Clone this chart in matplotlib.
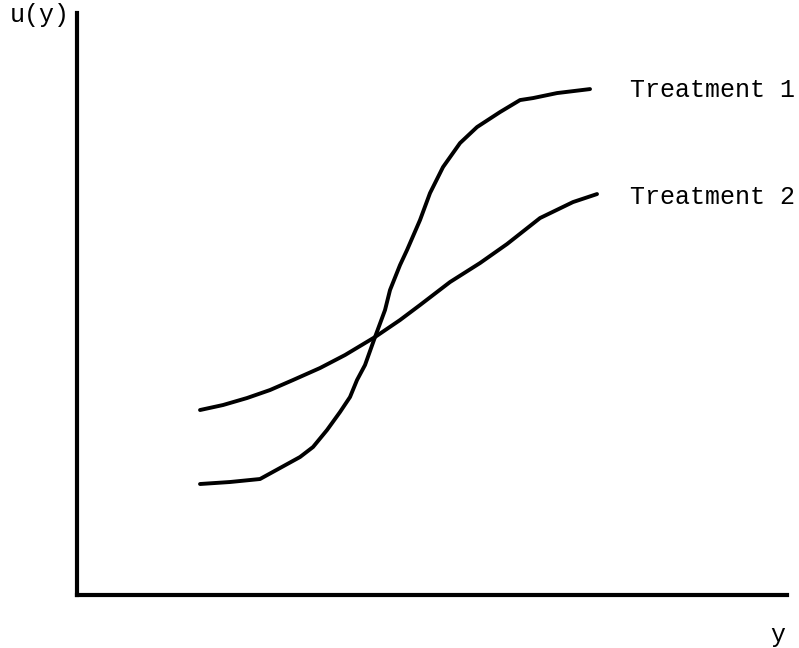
import numpy as np
import matplotlib
matplotlib.use("Agg")
import matplotlib.pyplot as plt

# curve values (arbitrary units)
t1_x = [123, 153, 183, 203, 223, 236, 250, 263, 273, 280, 288, 298, 308, 313,
        323, 330, 343, 353, 366, 383, 400, 423, 443, 456, 480, 513]
t1_u = [111, 113, 116, 127, 138, 148, 165, 183, 198, 215, 230, 258, 285, 305,
        330, 345, 375, 402, 428, 452, 468, 483, 495, 497, 502, 506]

t2_x = [123, 146, 170, 193, 216, 243, 268, 298, 323, 343, 373, 403, 430, 463, 496, 520]
t2_u = [185, 190, 197, 205, 215, 227, 240, 258, 275, 290, 313, 332, 351, 377, 393, 401]

labels = ["Treatment 1", "Treatment 2"]

plt.rcParams['font.family'] = ['Liberation Mono', 'DejaVu Sans Mono']

fig = plt.figure(figsize=(7.99, 6.48), dpi=100)
ax = fig.add_axes([0.0964, 0.0818, 0.8886, 0.898])

ax.plot(t1_x, t1_u, color='black', lw=2.8, solid_capstyle='round', solid_joinstyle='round')
ax.plot(t2_x, t2_u, color='black', lw=2.8, solid_capstyle='round', solid_joinstyle='round')

ax.set_xlim(0, 710)
ax.set_ylim(0, 582)
ax.spines['top'].set_visible(False)
ax.spines['right'].set_visible(False)
ax.spines['left'].set_linewidth(3)
ax.spines['bottom'].set_linewidth(3)
ax.set_xticks([])
ax.set_yticks([])

fig.text(0.0125, 0.977, "u(y)", fontsize=18, va='center', ha='left')
fig.text(0.974, 0.02, "y", fontsize=18, va='center', ha='center')
fig.text(0.788, 0.861, labels[0], fontsize=18, va='center', ha='left')
fig.text(0.788, 0.696, labels[1], fontsize=18, va='center', ha='left')

fig.savefig("out.png", dpi=100)
